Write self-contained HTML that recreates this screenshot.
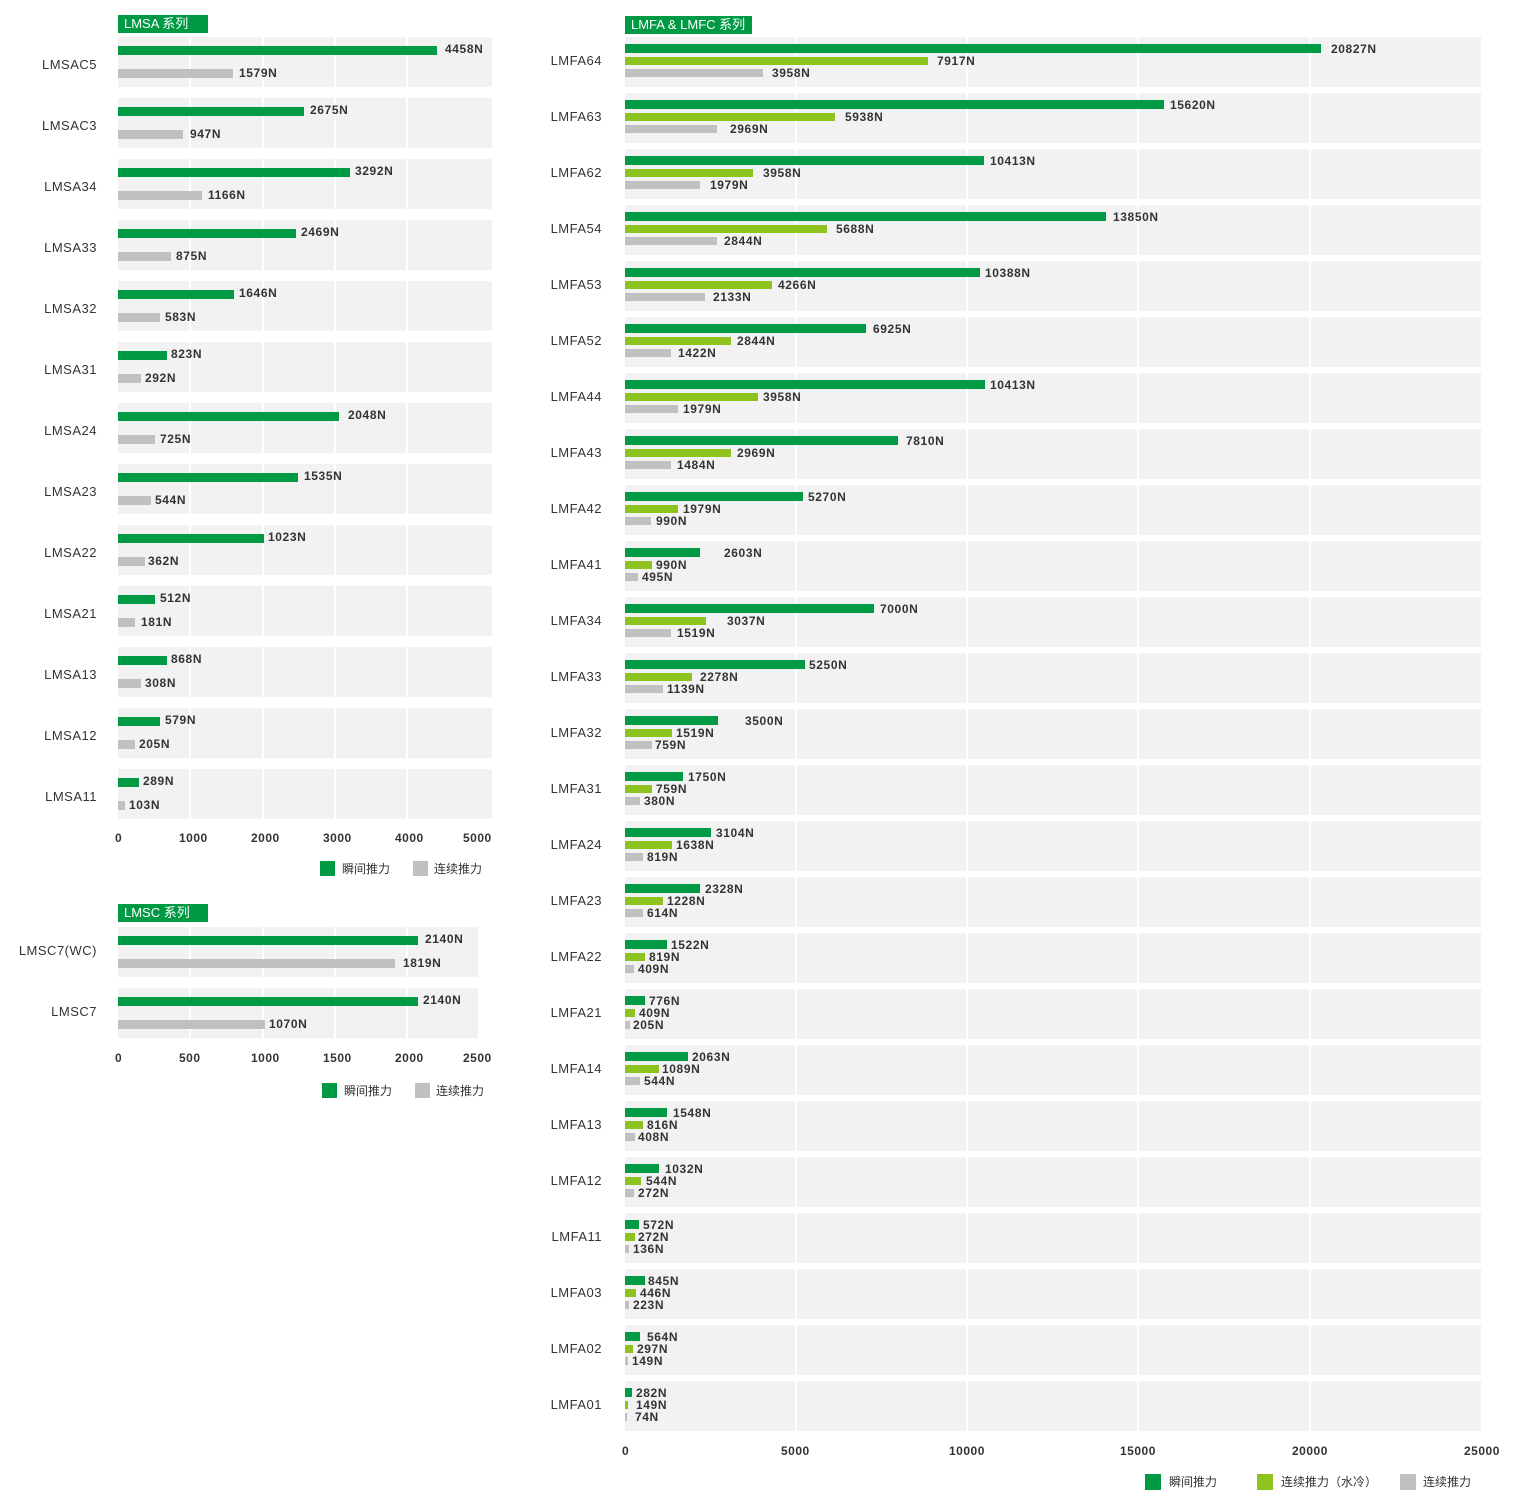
<!DOCTYPE html>
<html><head><meta charset="utf-8"><style>
body{margin:0;background:#fff;width:1520px;height:1512px;position:relative;overflow:hidden;font-family:"Liberation Sans","Noto Sans CJK SC",sans-serif;}
div,span{position:absolute;}
.p{background:#f2f2f2;height:50px}
.v{background:#fff;width:2px}
.g{background:#009a44;height:9px}
.l{background:#8dc21f;height:8px}
.r{background:#c0c0c0;height:9px}
.rr{background:#c0c0c0;height:8px}
.t{font-size:12px;line-height:14px;font-weight:bold;color:#333;letter-spacing:0.6px;white-space:nowrap}
.n{font-size:13px;line-height:14px;color:#333;letter-spacing:0.5px;text-align:right;white-space:nowrap}
.h{background:#009a44;color:#fff;font-size:13px;line-height:18px;padding-left:6px;box-sizing:border-box}
.a{font-size:12px;line-height:14px;font-weight:bold;color:#333;letter-spacing:0.5px;white-space:nowrap}
.k{font-size:12px;line-height:14px;color:#333;white-space:nowrap}
</style></head><body>

<!-- LMSA -->
<div class="h" style="left:118px;top:15px;width:90px;height:18px">LMSA 系列</div>
<div class="p" style="left:118px;top:37px;width:374px"></div>
<div class="p" style="left:118px;top:98px;width:374px"></div>
<div class="p" style="left:118px;top:159px;width:374px"></div>
<div class="p" style="left:118px;top:220px;width:374px"></div>
<div class="p" style="left:118px;top:281px;width:374px"></div>
<div class="p" style="left:118px;top:342px;width:374px"></div>
<div class="p" style="left:118px;top:403px;width:374px"></div>
<div class="p" style="left:118px;top:464px;width:374px"></div>
<div class="p" style="left:118px;top:525px;width:374px"></div>
<div class="p" style="left:118px;top:586px;width:374px"></div>
<div class="p" style="left:118px;top:647px;width:374px"></div>
<div class="p" style="left:118px;top:708px;width:374px"></div>
<div class="p" style="left:118px;top:769px;width:374px"></div>
<div class="v" style="left:189px;top:37px;height:782px"></div>
<div class="v" style="left:262px;top:37px;height:782px"></div>
<div class="v" style="left:334px;top:37px;height:782px"></div>
<div class="v" style="left:406px;top:37px;height:782px"></div>

<span class="n" style="right:1423px;top:58px">LMSAC5</span>
<div class="g" style="left:118px;top:46px;width:319px"></div><span class="t" style="left:445px;top:42px">4458N</span>
<div class="r" style="left:118px;top:69px;width:115px"></div><span class="t" style="left:239px;top:66px">1579N</span>

<span class="n" style="right:1423px;top:119px">LMSAC3</span>
<div class="g" style="left:118px;top:107px;width:186px"></div><span class="t" style="left:310px;top:103px">2675N</span>
<div class="r" style="left:118px;top:130px;width:65px"></div><span class="t" style="left:190px;top:127px">947N</span>

<span class="n" style="right:1423px;top:180px">LMSA34</span>
<div class="g" style="left:118px;top:168px;width:232px"></div><span class="t" style="left:355px;top:164px">3292N</span>
<div class="r" style="left:118px;top:191px;width:84px"></div><span class="t" style="left:208px;top:188px">1166N</span>

<span class="n" style="right:1423px;top:241px">LMSA33</span>
<div class="g" style="left:118px;top:229px;width:178px"></div><span class="t" style="left:301px;top:225px">2469N</span>
<div class="r" style="left:118px;top:252px;width:53px"></div><span class="t" style="left:176px;top:249px">875N</span>

<span class="n" style="right:1423px;top:302px">LMSA32</span>
<div class="g" style="left:118px;top:290px;width:116px"></div><span class="t" style="left:239px;top:286px">1646N</span>
<div class="r" style="left:118px;top:313px;width:42px"></div><span class="t" style="left:165px;top:310px">583N</span>

<span class="n" style="right:1423px;top:363px">LMSA31</span>
<div class="g" style="left:118px;top:351px;width:49px"></div><span class="t" style="left:171px;top:347px">823N</span>
<div class="r" style="left:118px;top:374px;width:23px"></div><span class="t" style="left:145px;top:371px">292N</span>

<span class="n" style="right:1423px;top:424px">LMSA24</span>
<div class="g" style="left:118px;top:412px;width:221px"></div><span class="t" style="left:348px;top:408px">2048N</span>
<div class="r" style="left:118px;top:435px;width:37px"></div><span class="t" style="left:160px;top:432px">725N</span>

<span class="n" style="right:1423px;top:485px">LMSA23</span>
<div class="g" style="left:118px;top:473px;width:180px"></div><span class="t" style="left:304px;top:469px">1535N</span>
<div class="r" style="left:118px;top:496px;width:33px"></div><span class="t" style="left:155px;top:493px">544N</span>

<span class="n" style="right:1423px;top:546px">LMSA22</span>
<div class="g" style="left:118px;top:534px;width:146px"></div><span class="t" style="left:268px;top:530px">1023N</span>
<div class="r" style="left:118px;top:557px;width:27px"></div><span class="t" style="left:148px;top:554px">362N</span>

<span class="n" style="right:1423px;top:607px">LMSA21</span>
<div class="g" style="left:118px;top:595px;width:37px"></div><span class="t" style="left:160px;top:591px">512N</span>
<div class="r" style="left:118px;top:618px;width:17px"></div><span class="t" style="left:141px;top:615px">181N</span>

<span class="n" style="right:1423px;top:668px">LMSA13</span>
<div class="g" style="left:118px;top:656px;width:49px"></div><span class="t" style="left:171px;top:652px">868N</span>
<div class="r" style="left:118px;top:679px;width:23px"></div><span class="t" style="left:145px;top:676px">308N</span>

<span class="n" style="right:1423px;top:729px">LMSA12</span>
<div class="g" style="left:118px;top:717px;width:42px"></div><span class="t" style="left:165px;top:713px">579N</span>
<div class="r" style="left:118px;top:740px;width:17px"></div><span class="t" style="left:139px;top:737px">205N</span>

<span class="n" style="right:1423px;top:790px">LMSA11</span>
<div class="g" style="left:118px;top:778px;width:21px"></div><span class="t" style="left:143px;top:774px">289N</span>
<div class="r" style="left:118px;top:801px;width:7px"></div><span class="t" style="left:129px;top:798px">103N</span>

<span class="a" style="left:115px;top:831px">0</span>
<span class="a" style="left:179px;top:831px">1000</span>
<span class="a" style="left:251px;top:831px">2000</span>
<span class="a" style="left:323px;top:831px">3000</span>
<span class="a" style="left:395px;top:831px">4000</span>
<span class="a" style="left:463px;top:831px">5000</span>
<div style="left:320px;top:861px;width:15px;height:15px;background:#009a44"></div><span class="k" style="left:342px;top:862px">瞬间推力</span>
<div style="left:413px;top:861px;width:15px;height:15px;background:#c0c0c0"></div><span class="k" style="left:434px;top:862px">连续推力</span>

<!-- LMSC -->
<div class="h" style="left:118px;top:904px;width:90px;height:18px">LMSC 系列</div>
<div class="p" style="left:118px;top:927px;width:360px"></div>
<div class="p" style="left:118px;top:988px;width:360px"></div>
<div class="v" style="left:189px;top:927px;height:112px"></div>
<div class="v" style="left:262px;top:927px;height:112px"></div>
<div class="v" style="left:334px;top:927px;height:112px"></div>
<div class="v" style="left:406px;top:927px;height:112px"></div>
<span class="n" style="right:1423px;top:944px">LMSC7(WC)</span>
<div class="g" style="left:118px;top:936px;width:300px"></div><span class="t" style="left:425px;top:932px">2140N</span>
<div class="r" style="left:118px;top:959px;width:277px"></div><span class="t" style="left:403px;top:956px">1819N</span>
<span class="n" style="right:1423px;top:1005px">LMSC7</span>
<div class="g" style="left:118px;top:997px;width:300px"></div><span class="t" style="left:423px;top:993px">2140N</span>
<div class="r" style="left:118px;top:1020px;width:147px"></div><span class="t" style="left:269px;top:1017px">1070N</span>
<span class="a" style="left:115px;top:1051px">0</span>
<span class="a" style="left:179px;top:1051px">500</span>
<span class="a" style="left:251px;top:1051px">1000</span>
<span class="a" style="left:323px;top:1051px">1500</span>
<span class="a" style="left:395px;top:1051px">2000</span>
<span class="a" style="left:463px;top:1051px">2500</span>
<div style="left:322px;top:1083px;width:15px;height:15px;background:#009a44"></div><span class="k" style="left:344px;top:1084px">瞬间推力</span>
<div style="left:415px;top:1083px;width:15px;height:15px;background:#c0c0c0"></div><span class="k" style="left:436px;top:1084px">连续推力</span>

<!-- LMFA -->
<div class="h" style="left:625px;top:16px;width:127px;height:18px">LMFA &amp; LMFC 系列</div>
<div class="p" style="left:625px;top:37px;width:856px"></div>
<div class="p" style="left:625px;top:93px;width:856px"></div>
<div class="p" style="left:625px;top:149px;width:856px"></div>
<div class="p" style="left:625px;top:205px;width:856px"></div>
<div class="p" style="left:625px;top:261px;width:856px"></div>
<div class="p" style="left:625px;top:317px;width:856px"></div>
<div class="p" style="left:625px;top:373px;width:856px"></div>
<div class="p" style="left:625px;top:429px;width:856px"></div>
<div class="p" style="left:625px;top:485px;width:856px"></div>
<div class="p" style="left:625px;top:541px;width:856px"></div>
<div class="p" style="left:625px;top:597px;width:856px"></div>
<div class="p" style="left:625px;top:653px;width:856px"></div>
<div class="p" style="left:625px;top:709px;width:856px"></div>
<div class="p" style="left:625px;top:765px;width:856px"></div>
<div class="p" style="left:625px;top:821px;width:856px"></div>
<div class="p" style="left:625px;top:877px;width:856px"></div>
<div class="p" style="left:625px;top:933px;width:856px"></div>
<div class="p" style="left:625px;top:989px;width:856px"></div>
<div class="p" style="left:625px;top:1045px;width:856px"></div>
<div class="p" style="left:625px;top:1101px;width:856px"></div>
<div class="p" style="left:625px;top:1157px;width:856px"></div>
<div class="p" style="left:625px;top:1213px;width:856px"></div>
<div class="p" style="left:625px;top:1269px;width:856px"></div>
<div class="p" style="left:625px;top:1325px;width:856px"></div>
<div class="p" style="left:625px;top:1381px;width:856px"></div>
<div class="v" style="left:795px;top:37px;height:1394px"></div>
<div class="v" style="left:966px;top:37px;height:1394px"></div>
<div class="v" style="left:1137px;top:37px;height:1394px"></div>
<div class="v" style="left:1309px;top:37px;height:1394px"></div>

<span class="n" style="right:918px;top:54px">LMFA64</span>
<div class="g" style="left:625px;top:44px;width:696px"></div><span class="t" style="left:1331px;top:42px">20827N</span>
<div class="l" style="left:625px;top:57px;width:303px"></div><span class="t" style="left:937px;top:54px">7917N</span>
<div class="rr" style="left:625px;top:69px;width:138px"></div><span class="t" style="left:772px;top:66px">3958N</span>

<span class="n" style="right:918px;top:110px">LMFA63</span>
<div class="g" style="left:625px;top:100px;width:539px"></div><span class="t" style="left:1170px;top:98px">15620N</span>
<div class="l" style="left:625px;top:113px;width:210px"></div><span class="t" style="left:845px;top:110px">5938N</span>
<div class="rr" style="left:625px;top:125px;width:92px"></div><span class="t" style="left:730px;top:122px">2969N</span>

<span class="n" style="right:918px;top:166px">LMFA62</span>
<div class="g" style="left:625px;top:156px;width:359px"></div><span class="t" style="left:990px;top:154px">10413N</span>
<div class="l" style="left:625px;top:169px;width:128px"></div><span class="t" style="left:763px;top:166px">3958N</span>
<div class="rr" style="left:625px;top:181px;width:75px"></div><span class="t" style="left:710px;top:178px">1979N</span>

<span class="n" style="right:918px;top:222px">LMFA54</span>
<div class="g" style="left:625px;top:212px;width:481px"></div><span class="t" style="left:1113px;top:210px">13850N</span>
<div class="l" style="left:625px;top:225px;width:202px"></div><span class="t" style="left:836px;top:222px">5688N</span>
<div class="rr" style="left:625px;top:237px;width:92px"></div><span class="t" style="left:724px;top:234px">2844N</span>

<span class="n" style="right:918px;top:278px">LMFA53</span>
<div class="g" style="left:625px;top:268px;width:355px"></div><span class="t" style="left:985px;top:266px">10388N</span>
<div class="l" style="left:625px;top:281px;width:147px"></div><span class="t" style="left:778px;top:278px">4266N</span>
<div class="rr" style="left:625px;top:293px;width:80px"></div><span class="t" style="left:713px;top:290px">2133N</span>

<span class="n" style="right:918px;top:334px">LMFA52</span>
<div class="g" style="left:625px;top:324px;width:241px"></div><span class="t" style="left:873px;top:322px">6925N</span>
<div class="l" style="left:625px;top:337px;width:106px"></div><span class="t" style="left:737px;top:334px">2844N</span>
<div class="rr" style="left:625px;top:349px;width:46px"></div><span class="t" style="left:678px;top:346px">1422N</span>

<span class="n" style="right:918px;top:390px">LMFA44</span>
<div class="g" style="left:625px;top:380px;width:360px"></div><span class="t" style="left:990px;top:378px">10413N</span>
<div class="l" style="left:625px;top:393px;width:133px"></div><span class="t" style="left:763px;top:390px">3958N</span>
<div class="rr" style="left:625px;top:405px;width:53px"></div><span class="t" style="left:683px;top:402px">1979N</span>

<span class="n" style="right:918px;top:446px">LMFA43</span>
<div class="g" style="left:625px;top:436px;width:273px"></div><span class="t" style="left:906px;top:434px">7810N</span>
<div class="l" style="left:625px;top:449px;width:106px"></div><span class="t" style="left:737px;top:446px">2969N</span>
<div class="rr" style="left:625px;top:461px;width:46px"></div><span class="t" style="left:677px;top:458px">1484N</span>

<span class="n" style="right:918px;top:502px">LMFA42</span>
<div class="g" style="left:625px;top:492px;width:178px"></div><span class="t" style="left:808px;top:490px">5270N</span>
<div class="l" style="left:625px;top:505px;width:53px"></div><span class="t" style="left:683px;top:502px">1979N</span>
<div class="rr" style="left:625px;top:517px;width:26px"></div><span class="t" style="left:656px;top:514px">990N</span>

<span class="n" style="right:918px;top:558px">LMFA41</span>
<div class="g" style="left:625px;top:548px;width:75px"></div><span class="t" style="left:724px;top:546px">2603N</span>
<div class="l" style="left:625px;top:561px;width:27px"></div><span class="t" style="left:656px;top:558px">990N</span>
<div class="rr" style="left:625px;top:573px;width:13px"></div><span class="t" style="left:642px;top:570px">495N</span>

<span class="n" style="right:918px;top:614px">LMFA34</span>
<div class="g" style="left:625px;top:604px;width:249px"></div><span class="t" style="left:880px;top:602px">7000N</span>
<div class="l" style="left:625px;top:617px;width:81px"></div><span class="t" style="left:727px;top:614px">3037N</span>
<div class="rr" style="left:625px;top:629px;width:46px"></div><span class="t" style="left:677px;top:626px">1519N</span>

<span class="n" style="right:918px;top:670px">LMFA33</span>
<div class="g" style="left:625px;top:660px;width:180px"></div><span class="t" style="left:809px;top:658px">5250N</span>
<div class="l" style="left:625px;top:673px;width:67px"></div><span class="t" style="left:700px;top:670px">2278N</span>
<div class="rr" style="left:625px;top:685px;width:38px"></div><span class="t" style="left:667px;top:682px">1139N</span>

<span class="n" style="right:918px;top:726px">LMFA32</span>
<div class="g" style="left:625px;top:716px;width:93px"></div><span class="t" style="left:745px;top:714px">3500N</span>
<div class="l" style="left:625px;top:729px;width:47px"></div><span class="t" style="left:676px;top:726px">1519N</span>
<div class="rr" style="left:625px;top:741px;width:27px"></div><span class="t" style="left:655px;top:738px">759N</span>

<span class="n" style="right:918px;top:782px">LMFA31</span>
<div class="g" style="left:625px;top:772px;width:58px"></div><span class="t" style="left:688px;top:770px">1750N</span>
<div class="l" style="left:625px;top:785px;width:27px"></div><span class="t" style="left:656px;top:782px">759N</span>
<div class="rr" style="left:625px;top:797px;width:15px"></div><span class="t" style="left:644px;top:794px">380N</span>

<span class="n" style="right:918px;top:838px">LMFA24</span>
<div class="g" style="left:625px;top:828px;width:86px"></div><span class="t" style="left:716px;top:826px">3104N</span>
<div class="l" style="left:625px;top:841px;width:47px"></div><span class="t" style="left:676px;top:838px">1638N</span>
<div class="rr" style="left:625px;top:853px;width:18px"></div><span class="t" style="left:647px;top:850px">819N</span>

<span class="n" style="right:918px;top:894px">LMFA23</span>
<div class="g" style="left:625px;top:884px;width:75px"></div><span class="t" style="left:705px;top:882px">2328N</span>
<div class="l" style="left:625px;top:897px;width:38px"></div><span class="t" style="left:667px;top:894px">1228N</span>
<div class="rr" style="left:625px;top:909px;width:18px"></div><span class="t" style="left:647px;top:906px">614N</span>

<span class="n" style="right:918px;top:950px">LMFA22</span>
<div class="g" style="left:625px;top:940px;width:42px"></div><span class="t" style="left:671px;top:938px">1522N</span>
<div class="l" style="left:625px;top:953px;width:20px"></div><span class="t" style="left:649px;top:950px">819N</span>
<div class="rr" style="left:625px;top:965px;width:9px"></div><span class="t" style="left:638px;top:962px">409N</span>

<span class="n" style="right:918px;top:1006px">LMFA21</span>
<div class="g" style="left:625px;top:996px;width:20px"></div><span class="t" style="left:649px;top:994px">776N</span>
<div class="l" style="left:625px;top:1009px;width:10px"></div><span class="t" style="left:639px;top:1006px">409N</span>
<div class="rr" style="left:625px;top:1021px;width:5px"></div><span class="t" style="left:633px;top:1018px">205N</span>

<span class="n" style="right:918px;top:1062px">LMFA14</span>
<div class="g" style="left:625px;top:1052px;width:63px"></div><span class="t" style="left:692px;top:1050px">2063N</span>
<div class="l" style="left:625px;top:1065px;width:34px"></div><span class="t" style="left:662px;top:1062px">1089N</span>
<div class="rr" style="left:625px;top:1077px;width:15px"></div><span class="t" style="left:644px;top:1074px">544N</span>

<span class="n" style="right:918px;top:1118px">LMFA13</span>
<div class="g" style="left:625px;top:1108px;width:42px"></div><span class="t" style="left:673px;top:1106px">1548N</span>
<div class="l" style="left:625px;top:1121px;width:18px"></div><span class="t" style="left:647px;top:1118px">816N</span>
<div class="rr" style="left:625px;top:1133px;width:10px"></div><span class="t" style="left:638px;top:1130px">408N</span>

<span class="n" style="right:918px;top:1174px">LMFA12</span>
<div class="g" style="left:625px;top:1164px;width:34px"></div><span class="t" style="left:665px;top:1162px">1032N</span>
<div class="l" style="left:625px;top:1177px;width:16px"></div><span class="t" style="left:646px;top:1174px">544N</span>
<div class="rr" style="left:625px;top:1189px;width:9px"></div><span class="t" style="left:638px;top:1186px">272N</span>

<span class="n" style="right:918px;top:1230px">LMFA11</span>
<div class="g" style="left:625px;top:1220px;width:14px"></div><span class="t" style="left:643px;top:1218px">572N</span>
<div class="l" style="left:625px;top:1233px;width:10px"></div><span class="t" style="left:638px;top:1230px">272N</span>
<div class="rr" style="left:625px;top:1245px;width:4px"></div><span class="t" style="left:633px;top:1242px">136N</span>

<span class="n" style="right:918px;top:1286px">LMFA03</span>
<div class="g" style="left:625px;top:1276px;width:20px"></div><span class="t" style="left:648px;top:1274px">845N</span>
<div class="l" style="left:625px;top:1289px;width:11px"></div><span class="t" style="left:640px;top:1286px">446N</span>
<div class="rr" style="left:625px;top:1301px;width:4px"></div><span class="t" style="left:633px;top:1298px">223N</span>

<span class="n" style="right:918px;top:1342px">LMFA02</span>
<div class="g" style="left:625px;top:1332px;width:15px"></div><span class="t" style="left:647px;top:1330px">564N</span>
<div class="l" style="left:625px;top:1345px;width:8px"></div><span class="t" style="left:637px;top:1342px">297N</span>
<div class="rr" style="left:625px;top:1357px;width:3px"></div><span class="t" style="left:632px;top:1354px">149N</span>

<span class="n" style="right:918px;top:1398px">LMFA01</span>
<div class="g" style="left:625px;top:1388px;width:7px"></div><span class="t" style="left:636px;top:1386px">282N</span>
<div class="l" style="left:625px;top:1401px;width:3px"></div><span class="t" style="left:636px;top:1398px">149N</span>
<div class="rr" style="left:625px;top:1413px;width:2px"></div><span class="t" style="left:635px;top:1410px">74N</span>

<span class="a" style="left:622px;top:1444px">0</span>
<span class="a" style="left:781px;top:1444px">5000</span>
<span class="a" style="left:949px;top:1444px">10000</span>
<span class="a" style="left:1120px;top:1444px">15000</span>
<span class="a" style="left:1292px;top:1444px">20000</span>
<span class="a" style="left:1464px;top:1444px">25000</span>
<div style="left:1145px;top:1474px;width:16px;height:16px;background:#009a44"></div><span class="k" style="left:1169px;top:1475px">瞬间推力</span>
<div style="left:1257px;top:1474px;width:16px;height:16px;background:#8dc21f"></div><span class="k" style="left:1281px;top:1475px">连续推力（水冷）</span>
<div style="left:1400px;top:1474px;width:16px;height:16px;background:#c0c0c0"></div><span class="k" style="left:1423px;top:1475px">连续推力</span>
</body></html>
